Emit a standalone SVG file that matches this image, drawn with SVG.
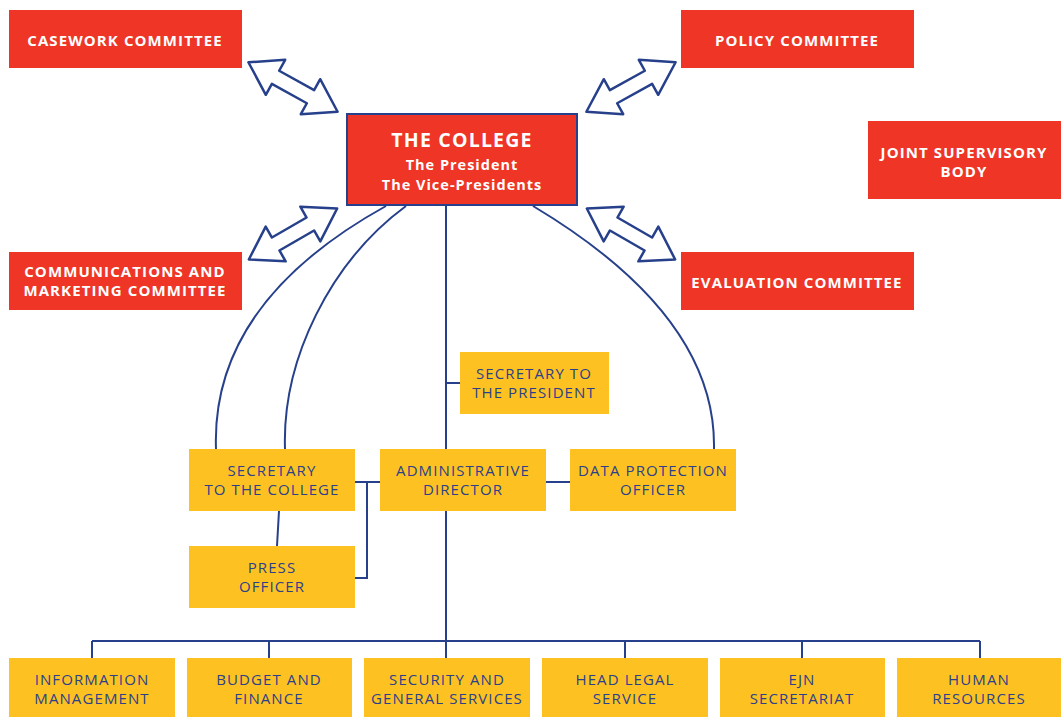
<svg xmlns="http://www.w3.org/2000/svg" width="1061" height="717" viewBox="0 0 1061 717">
<style>
.red{fill:#EE3526}
.yel{fill:#FDC221}
.rt{font-family:"Open Sans","Noto Sans",sans-serif;font-weight:700;font-size:15px;fill:#fff;text-anchor:middle;letter-spacing:1.1px}
.yt{font-family:"Open Sans","Noto Sans",sans-serif;font-size:15px;fill:#2B3F8C;text-anchor:middle;letter-spacing:1.1px}
.ln{fill:none;stroke:#27408B;stroke-width:2}
.arr{fill:#fff;stroke:#27408B;stroke-width:2.5;stroke-linejoin:round}
</style>
<defs>
<path id="dbl" d="M-51,0 L-20,-20 L-20,-7.5 L20,-7.5 L20,-20 L51,0 L20,20 L20,7.5 L-20,7.5 L-20,20 Z"/>
</defs>
<rect width="1061" height="717" fill="#fff"/>
<g id="connectors">
<path class="ln" d="M446,206 V449 M446,383 H460 M446,511 V641 M92,641 H980 M92,641 V658 M269,641 V658 M446,641 V658 M625,641 V658 M802,641 V658 M980,641 V658"/>
<path class="ln" d="M386,206 C285,262 212,340 216,449"/>
<path class="ln" d="M406,206 C330,262 282,360 285,449"/>
<path class="ln" d="M533,206 C640,270 716,350 714,449"/>
<path class="ln" d="M279,511 L277,546 M355,482 H380 M367,482 V578 H355 M546,482 H570"/>
<use href="#dbl" class="arr" transform="translate(293,87) rotate(29)"/>
<use href="#dbl" class="arr" transform="translate(631,87) rotate(-29)"/>
<use href="#dbl" class="arr" transform="translate(293,234) rotate(-30)"/>
<use href="#dbl" class="arr" transform="translate(631,234) rotate(30)"/>
</g>
<g id="casework"><rect class="red" x="9" y="10" width="233" height="58"/><text class="rt" x="125" y="46">CASEWORK COMMITTEE</text></g>
<g id="policy"><rect class="red" x="681" y="10" width="233" height="58"/><text class="rt" x="797" y="46">POLICY COMMITTEE</text></g>
<g id="jsb"><rect class="red" x="868" y="121" width="193" height="78"/><text class="rt" x="964" y="158">JOINT SUPERVISORY</text><text class="rt" x="964" y="177">BODY</text></g>
<g id="comm"><rect class="red" x="9" y="252" width="233" height="58"/><text class="rt" x="125" y="277">COMMUNICATIONS AND</text><text class="rt" x="125" y="296">MARKETING COMMITTEE</text></g>
<g id="eval"><rect class="red" x="681" y="252" width="233" height="58"/><text class="rt" x="797" y="288">EVALUATION COMMITTEE</text></g>
<g id="college"><rect class="red" x="347" y="114" width="230" height="91" stroke="#27408B" stroke-width="2"/>
<text class="rt" x="462" y="147" style="font-size:19.5px;letter-spacing:1.2px">THE COLLEGE</text>
<text class="rt" x="462" y="170" style="font-size:14.5px;letter-spacing:1px">The President</text>
<text class="rt" x="462" y="190" style="font-size:14.5px;letter-spacing:1px">The Vice-Presidents</text></g>
<g id="secpres"><rect class="yel" x="460" y="352" width="149" height="62"/><text class="yt" x="534" y="379">SECRETARY TO</text><text class="yt" x="534" y="398">THE PRESIDENT</text></g>
<g id="seccol"><rect class="yel" x="189" y="449" width="166" height="62"/><text class="yt" x="272" y="476">SECRETARY</text><text class="yt" x="272" y="495">TO THE COLLEGE</text></g>
<g id="admin"><rect class="yel" x="380" y="449" width="166" height="62"/><text class="yt" x="463" y="476">ADMINISTRATIVE</text><text class="yt" x="463" y="495">DIRECTOR</text></g>
<g id="dpo"><rect class="yel" x="570" y="449" width="166" height="62"/><text class="yt" x="653" y="476">DATA PROTECTION</text><text class="yt" x="653" y="495">OFFICER</text></g>
<g id="press"><rect class="yel" x="189" y="546" width="166" height="62"/><text class="yt" x="272" y="573">PRESS</text><text class="yt" x="272" y="592">OFFICER</text></g>
<g id="info"><rect class="yel" x="9" y="658" width="166" height="59"/><text class="yt" x="92" y="685">INFORMATION</text><text class="yt" x="92" y="704">MANAGEMENT</text></g>
<g id="budget"><rect class="yel" x="187" y="658" width="165" height="59"/><text class="yt" x="269" y="685">BUDGET AND</text><text class="yt" x="269" y="704">FINANCE</text></g>
<g id="security"><rect class="yel" x="364" y="658" width="166" height="59"/><text class="yt" x="447" y="685">SECURITY AND</text><text class="yt" x="447" y="704">GENERAL SERVICES</text></g>
<g id="legal"><rect class="yel" x="542" y="658" width="166" height="59"/><text class="yt" x="625" y="685">HEAD LEGAL</text><text class="yt" x="625" y="704">SERVICE</text></g>
<g id="ejn"><rect class="yel" x="720" y="658" width="165" height="59"/><text class="yt" x="802" y="685">EJN</text><text class="yt" x="802" y="704">SECRETARIAT</text></g>
<g id="hr"><rect class="yel" x="897" y="658" width="164" height="59"/><text class="yt" x="979" y="685">HUMAN</text><text class="yt" x="979" y="704">RESOURCES</text></g>
</svg>
